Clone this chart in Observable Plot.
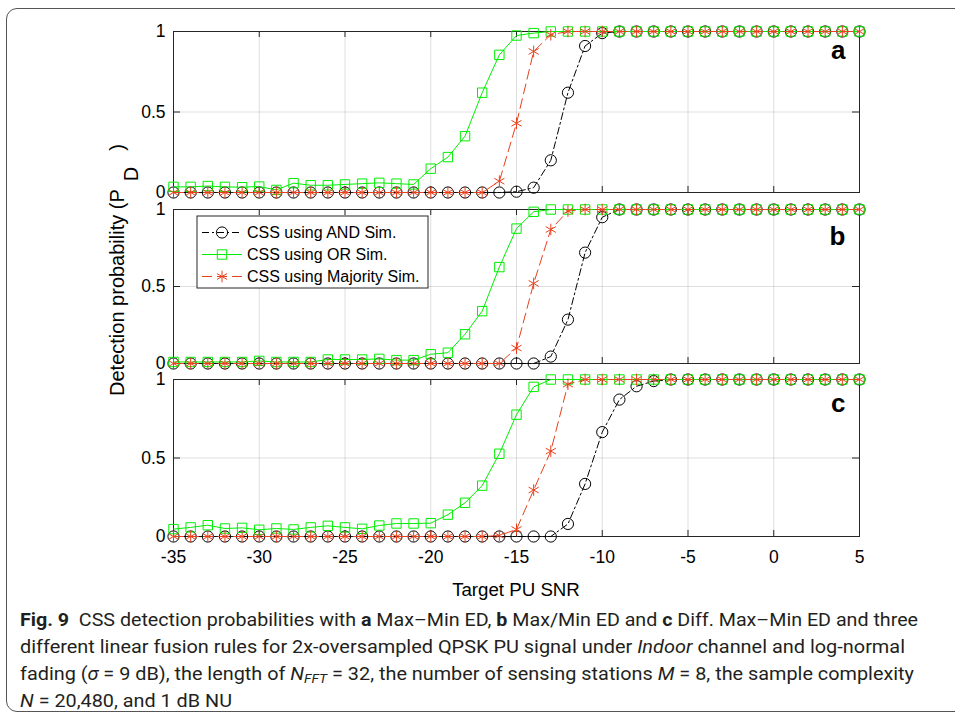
<!DOCTYPE html>
<html>
<head>
<meta charset="utf-8">
<script src="https://cdn.jsdelivr.net/npm/d3@7"></script>
<script src="https://cdn.jsdelivr.net/npm/@observablehq/plot@0.6"></script>
<style>
  html, body { margin: 0; padding: 0; background: #fff; }
  #wrap { position: relative; width: 955px; height: 721px; overflow: hidden; font-family: "Liberation Sans", Arial, sans-serif; }
  #box { position: absolute; left: 6px; top: 8px; width: 1100px; height: 704px; border: 1px solid #555; border-radius: 11px; box-sizing: border-box; }
  .panel { position: absolute; left: 0; }
  #overlay { position: absolute; left: 0; top: 0; }
  #caption { position: absolute; left: 20px; top: 606px; font-family: Roboto, "Liberation Sans", sans-serif; font-size: 19px; line-height: 27px; color: #231f20; }
  #caption .ln { white-space: nowrap; width: max-content; transform-origin: 0 50%; }
  #caption b { font-weight: 700; }
  #caption sub { font-size: 0.7em; vertical-align: -0.25em; line-height: 0; }
</style>
</head>
<body>
<div id="wrap">
  <div id="box"></div>
  <div id="caption">
    <div class="ln" data-w="898"><b>Fig. 9</b>&nbsp; CSS detection probabilities with <b>a</b> Max–Min ED, <b>b</b> Max/Min ED and <b>c</b> Diff. Max–Min ED and three</div>
    <div class="ln" data-w="885">different linear fusion rules for 2x-oversampled QPSK PU signal under <i>Indoor</i> channel and log-normal</div>
    <div class="ln" data-w="894">fading (<i>σ</i> = 9 dB), the length of <i>N<sub>FFT</sub></i> = 32, the number of sensing stations <i>M</i> = 8, the sample complexity</div>
    <div class="ln" data-w="212"><i>N</i> = 20,480, and 1 dB NU</div>
  </div>
</div>
<script>
// ---- data ----
const snr = [-35,-34,-33,-32,-31,-30,-29,-28,-27,-26,-25,-24,-23,-22,-21,-20,-19,-18,-17,-16,-15,-14,-13,-12,-11,-10,-9,-8,-7,-6,-5,-4,-3,-2,-1,0,1,2,3,4,5];
const xTicks = [-35,-30,-25,-20,-15,-10,-5,0,5];
const yTicks = [0,0.5,1];
const seriesNames = ["CSS using AND Sim.","CSS using OR Sim.","CSS using Majority Sim."];
const panelNames = ["a","b","c"];
const xLabel = "Target PU SNR";

// Panel a: Max–Min ED
const aAND = [0,0,0,0,0,0,0,0,0,0,0,0,0,0,0,0,0,0,0,0,0.005,0.03,0.2,0.62,0.91,0.99,1,1,1,1,1,1,1,1,1,1,1,1,1,1,1];
const aOR  = [0.035,0.035,0.04,0.035,0.033,0.037,0.016,0.058,0.045,0.045,0.05,0.055,0.06,0.055,0.05,0.148,0.22,0.35,0.62,0.855,0.975,0.99,1,1,1,1,1,1,1,1,1,1,1,1,1,1,1,1,1,1,1];
const aMAJ = [0,0,0,0,0,0,0,0,0,0,0,0,0,0,0,0,0,0,0,0.07,0.43,0.876,0.98,1,1,1,1,1,1,1,1,1,1,1,1,1,1,1,1,1,1];
// Panel b: Max/Min ED
const bAND = [0,0,0,0,0,0,0,0,0,0,0,0,0,0,0,0,0,0,0,0,0,0,0.045,0.285,0.72,0.95,1,1,1,1,1,1,1,1,1,1,1,1,1,1,1];
const bOR  = [0.01,0.01,0.01,0.01,0.01,0.017,0.01,0.01,0.01,0.026,0.026,0.026,0.03,0.022,0.022,0.06,0.07,0.19,0.34,0.626,0.876,0.985,1,1,1,1,1,1,1,1,1,1,1,1,1,1,1,1,1,1,1];
const bMAJ = [0,0,0,0,0,0,0,0,0,0,0,0,0,0,0,0,0,0,0,0,0.1,0.52,0.87,0.99,1,1,1,1,1,1,1,1,1,1,1,1,1,1,1,1,1];
// Panel c: Diff. Max–Min ED
const cAND = [0,0,0,0,0,0,0,0,0,0,0,0,0,0,0,0,0,0,0,0,0,0,0,0.08,0.335,0.665,0.872,0.957,0.99,1,1,1,1,1,1,1,1,1,1,1,1];
const cOR  = [0.047,0.058,0.072,0.051,0.055,0.043,0.051,0.045,0.058,0.068,0.058,0.049,0.07,0.083,0.083,0.085,0.139,0.215,0.324,0.527,0.776,0.953,1,1,1,1,1,1,1,1,1,1,1,1,1,1,1,1,1,1,1];
const cMAJ = [0,0,0,0,0,0,0,0,0,0,0,0,0,0,0,0,0,0,0,0.006,0.045,0.296,0.544,0.97,1,1,1,1,1,1,1,1,1,1,1,1,1,1,1,1,1];

// ---- styles ----
const colors = ["#000000", "#00ee00", "#e8401c"];
const symbols = ["circle", "square", "asterisk"];
const radii = [5.6, 5.3, 5.5];
const dashes = ["7,3,2,3", null, "10,5"];
const FONT = '"Liberation Sans", Arial, sans-serif';

const W = 955, ML = 173, MR = 96;
const innerW = W - ML - MR;

function makePanel(letter, seriesVals, top, innerH, showX, letterDy) {
  const mt = 10, mb = showX ? 64 : 10;
  const marks = [
    Plot.ruleX(xTicks, {stroke: "#262626", strokeOpacity: 0.15}),
    Plot.ruleY(yTicks, {stroke: "#262626", strokeOpacity: 0.15}),
    // inward ticks on all four sides
    Plot.ruleX(xTicks, {stroke: "#262626", insetTop: innerH - 6}),
    Plot.ruleX(xTicks, {stroke: "#262626", insetBottom: innerH - 6}),
    Plot.ruleY(yTicks, {stroke: "#262626", insetRight: innerW - 7}),
    Plot.ruleY(yTicks, {stroke: "#262626", insetLeft: innerW - 7}),
    Plot.frame({stroke: "#262626"})
  ];
  seriesVals.forEach((vals, s) => {
    const rows = snr.map((x, i) => ({x, y: vals[i]}));
    marks.push(Plot.line(rows, {x: "x", y: "y", stroke: colors[s], strokeWidth: 1, strokeDasharray: dashes[s]}));
    marks.push(Plot.dot(rows, {x: "x", y: "y", symbol: symbols[s], r: radii[s], stroke: colors[s], strokeWidth: 1, fill: "none"}));
  });
  marks.push(Plot.text([letter], {text: d => d, frameAnchor: "top-right", textAnchor: "end", lineAnchor: "top", dx: -14, dy: letterDy, fontSize: 26, fontWeight: "bold", fill: "#000"}));
  const svg = Plot.plot({
    width: W, height: innerH + mt + mb,
    marginLeft: ML, marginRight: MR, marginTop: mt, marginBottom: mb,
    style: {fontFamily: FONT, fontSize: "17.5px", background: "transparent", overflow: "visible", color: "#000"},
    x: {domain: [-35, 5], ticks: xTicks, tickSize: 0, tickPadding: 14, tickFormat: d => String(d),
        axis: showX ? "bottom" : null, label: null},
    y: {domain: [0, 1], ticks: yTicks, tickSize: 0, tickPadding: 8, tickFormat: d => String(d), label: null},
    marks
  });
  svg.classList.add("panel");
  svg.style.top = top + "px";
  svg.style.position = "absolute";
  svg.style.left = "0px";
  return svg;
}

const wrap = document.getElementById("wrap");
wrap.appendChild(makePanel(panelNames[0], [aAND, aOR, aMAJ], 21, 161, false, 9));
wrap.appendChild(makePanel(panelNames[1], [bAND, bOR, bMAJ], 199, 154, false, 17));
wrap.appendChild(makePanel(panelNames[2], [cAND, cOR, cMAJ], 369, 157, true, 14));

// ---- overlay: axis labels + legend ----
const ov = d3.create("svg").attr("id", "overlay").attr("width", W).attr("height", 600)
  .style("overflow", "visible").style("font-family", FONT);
const yl = ov.append("text").attr("transform", "translate(124,270) rotate(-90)")
  .attr("text-anchor", "middle").attr("font-size", 20).attr("fill", "#000");
yl.append("tspan").text("Detection probability (P");
yl.append("tspan").attr("dx", 8).attr("dy", "0.72em").text("D");
yl.append("tspan").attr("dx", 16).attr("dy", "-0.72em").text(")");

ov.append("text").attr("x", ML + innerW / 2).attr("y", 596).attr("text-anchor", "middle")
  .attr("font-size", 18.7).attr("fill", "#000").text(xLabel);

const lg = ov.append("g");
lg.append("rect").attr("x", 197).attr("y", 216).attr("width", 231).attr("height", 72)
  .attr("fill", "#fff").attr("stroke", "#262626").attr("stroke-width", 1);
const symMap = {circle: d3.symbolCircle, square: d3.symbolSquare, asterisk: d3.symbolAsterisk};
seriesNames.forEach((name, s) => {
  const cy = 232.5 + s * 22;
  lg.append("line").attr("x1", 202).attr("x2", 242).attr("y1", cy).attr("y2", cy)
    .attr("stroke", colors[s]).attr("stroke-width", 1).attr("stroke-dasharray", dashes[s]);
  lg.append("path").attr("transform", `translate(222,${cy})`)
    .attr("d", d3.symbol(symMap[symbols[s]], Math.PI * radii[s] * radii[s])())
    .attr("fill", "none").attr("stroke", colors[s]).attr("stroke-width", 1);
  lg.append("text").attr("x", 247).attr("y", cy).attr("dy", "0.35em").attr("font-size", 16)
    .attr("fill", "#000").text(name);
});
wrap.appendChild(ov.node());

// ---- caption line fitting ----
function fitCaption() {
  document.querySelectorAll("#caption .ln").forEach(el => {
    el.style.transform = "none";
    const w = el.getBoundingClientRect().width;
    const target = +el.dataset.w;
    if (w > 0) el.style.transform = `scaleX(${target / w})`;
  });
}
fitCaption();
if (document.fonts && document.fonts.ready) document.fonts.ready.then(fitCaption);
</script>
</body>
</html>
